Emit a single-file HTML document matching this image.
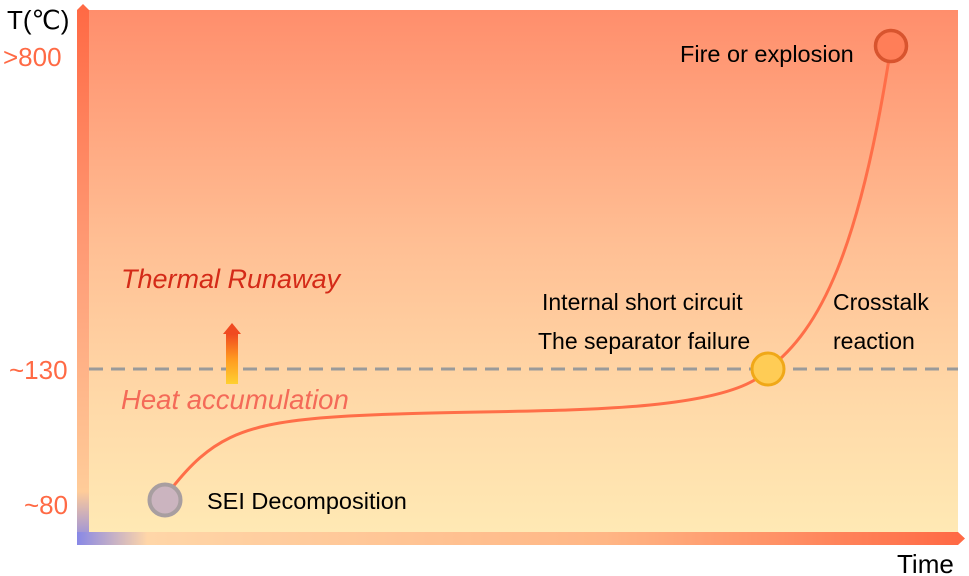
<!DOCTYPE html>
<html><head><style>
body{margin:0;width:969px;height:576px;background:#fff;overflow:hidden;position:relative;font-family:"Liberation Sans",Arial,sans-serif}
</style></head><body>
<svg width="969" height="576" xmlns="http://www.w3.org/2000/svg" style="position:absolute;left:0;top:0">
<defs>
<linearGradient id="bg" x1="0" y1="0" x2="0" y2="1">
<stop offset="0" stop-color="#ff8e6c"/>
<stop offset="0.45" stop-color="#ffbf94"/>
<stop offset="0.75" stop-color="#ffd9a8"/>
<stop offset="1" stop-color="#ffe9b4"/>
</linearGradient>
<linearGradient id="vax" x1="0" y1="0" x2="0" y2="1">
<stop offset="0" stop-color="#ff6a45"/>
<stop offset="0.5" stop-color="#ffa07a"/>
<stop offset="0.9" stop-color="#ffcc99"/>
<stop offset="1" stop-color="#8888e6"/>
</linearGradient>
<linearGradient id="hax" x1="0" y1="0" x2="1" y2="0">
<stop offset="0" stop-color="#8888e6"/>
<stop offset="0.08" stop-color="#ffd6a8"/>
<stop offset="0.6" stop-color="#ffb685"/>
<stop offset="1" stop-color="#ff6a45"/>
</linearGradient>
<linearGradient id="arr" x1="0" y1="0" x2="0" y2="1">
<stop offset="0" stop-color="#f04a20"/>
<stop offset="0.5" stop-color="#ff9a20"/>
<stop offset="1" stop-color="#ffd030"/>
</linearGradient>
</defs>
<rect x="89" y="10" width="869" height="522" fill="url(#bg)"/>
<rect x="77" y="10" width="12" height="535" fill="url(#vax)"/>
<polygon points="77,10 83,4 89,10" fill="#ff6a45"/>
<rect x="77" y="532" width="881" height="13" fill="url(#hax)"/>
<polygon points="958,532 965,538.5 958,545" fill="#ff6a45"/>
<line x1="89" y1="369" x2="958" y2="369" stroke="#9a9a9a" stroke-width="3" stroke-dasharray="14,8"/>
<rect x="226" y="334" width="12" height="50" fill="url(#arr)"/>
<polygon points="223,334 232,323 241,334" fill="#f04a20"/>
<path d="M172,488 C210,440 240,425 320,418 C420,410 560,414 650,405 C720,398 755,385 768,369 C820,330 860,250 891,46" fill="none" stroke="#ff6e48" stroke-width="3"/>
<circle cx="165" cy="500" r="15.5" fill="#cbb4bf" stroke="#a89ea0" stroke-width="4"/>
<circle cx="768" cy="369" r="16" fill="#ffcc55" stroke="#f0a818" stroke-width="3"/>
<circle cx="891" cy="46" r="15.5" fill="#ff7e58" stroke="#d8542e" stroke-width="3.5"/>
<g font-family="Liberation Sans, Arial, sans-serif">
<text x="7" y="29" font-size="26" fill="#000">T(℃)</text>
<text x="3" y="66" font-size="26" fill="#ff6a45">&gt;800</text>
<text x="9" y="379" font-size="26" fill="#ff6a45">~130</text>
<text x="24" y="514" font-size="26" fill="#ff6a45">~80</text>
<text x="897" y="573" font-size="26" fill="#000">Time</text>
<text x="121" y="288" font-size="27" font-style="italic" fill="#d42a18">Thermal Runaway</text>
<text x="121" y="409" font-size="27.5" font-style="italic" fill="#f46a58">Heat accumulation</text>
<text x="207" y="509" font-size="23.5" fill="#000">SEI Decomposition</text>
<text x="542" y="310" font-size="23" fill="#000">Internal short circuit</text>
<text x="538" y="349" font-size="23" fill="#000">The separator failure</text>
<text x="833" y="310" font-size="23" fill="#000">Crosstalk</text>
<text x="833" y="349" font-size="23" fill="#000">reaction</text>
<text x="680" y="62" font-size="23.5" fill="#000">Fire or explosion</text>
</g>
</svg>
</body></html>
